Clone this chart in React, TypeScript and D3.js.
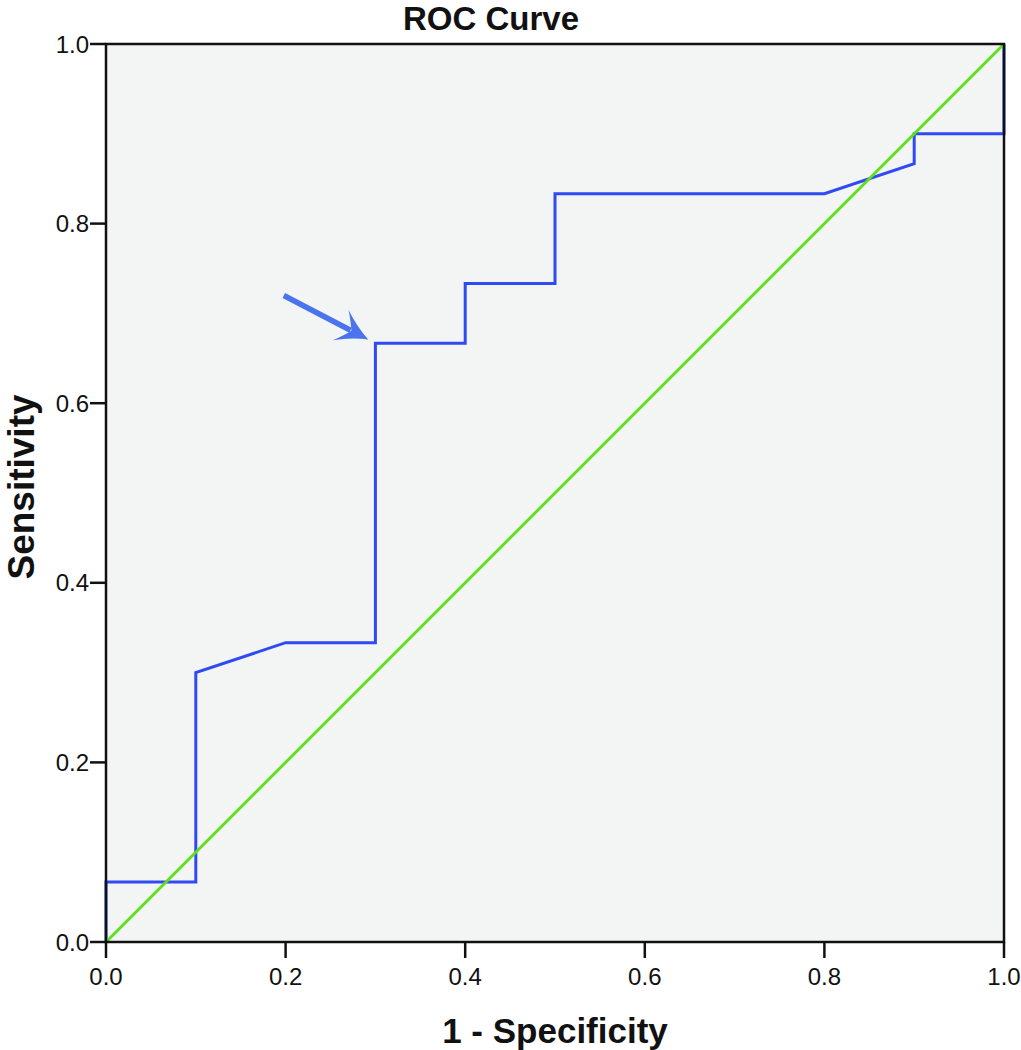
import React, { useEffect } from "react";
import * as d3 from "d3";

const rocFpr = [0, 0, 0.1, 0.1, 0.2, 0.3, 0.3, 0.4, 0.4, 0.5, 0.5, 0.8, 0.9, 0.9, 1.0, 1.0];
const rocTpr = [0, 0.0667, 0.0667, 0.3, 0.3333, 0.3333, 0.6667, 0.6667, 0.7333, 0.7333, 0.8333, 0.8333, 0.8667, 0.9, 0.9, 1.0];
const refX = [0, 1];
const refY = [0, 1];
const tickValues = [0, 0.2, 0.4, 0.6, 0.8, 1.0];
const arrowTail = [0.198, 0.72];
const arrowTip = [0.292, 0.671];

const W = 1021;
const H = 1050;
const left = 106, right = 1004, top = 44, bottom = 942;
const FONT = "'Liberation Sans', Arial, Helvetica, sans-serif";

export default function App() {
  useEffect(() => {
    document.body.style.margin = "0";
  }, []);
  const x = d3.scaleLinear().domain([0, 1]).range([left, right]);
  const y = d3.scaleLinear().domain([0, 1]).range([bottom, top]);
  const line = d3.line<number>().x((_, i) => x(rocFpr[i])).y((_, i) => y(rocTpr[i]));
  const rocPath = line(rocFpr) || "";
  const refPath = d3.line<number>().x((_, i) => x(refX[i])).y((_, i) => y(refY[i]))(refX) || "";

  const tx = x(arrowTip[0]), ty = y(arrowTip[1]);
  const sx = x(arrowTail[0]), sy = y(arrowTail[1]);
  const ang = (Math.atan2(ty - sy, tx - sx) * 180) / Math.PI;
  const len = Math.hypot(tx - sx, ty - sy);
  const head = "M0,0 Q-16,-6 -31,-17 Q-23,-7 -19,0 Q-23,7 -31,17 Q-16,6 0,0 Z";

  return (
    <svg width={W} height={H} style={{ display: "block", background: "#fff" }}>
      <rect x={left} y={top} width={right - left} height={bottom - top} fill="#f3f4f4" />
      <path d={rocPath} fill="none" stroke="#2f4af2" strokeWidth={3} strokeLinejoin="miter" />
      <path d={refPath} fill="none" stroke="#5ee01c" strokeWidth={2.8} />
      <rect x={left} y={top} width={right - left} height={bottom - top} fill="none" stroke="#111" strokeWidth={2.5} />
      <g transform={`translate(${tx},${ty}) rotate(${ang})`}>
        <line x1={-len} y1={0} x2={-20} y2={0} stroke="#4a74ee" strokeWidth={5.5} />
        <path d={head} fill="#4a74ee" />
      </g>
      {tickValues.map((t) => (
        <g key={"x" + t}>
          <line x1={x(t)} x2={x(t)} y1={bottom} y2={bottom + 16} stroke="#111" strokeWidth={2.5} />
          <text x={x(t)} y={985} textAnchor="middle" fontFamily={FONT} fontSize={24} fill="#111">
            {d3.format(".1f")(t)}
          </text>
        </g>
      ))}
      {tickValues.map((t) => (
        <g key={"y" + t}>
          <line x1={left - 16} x2={left} y1={y(t)} y2={y(t)} stroke="#111" strokeWidth={2.5} />
          <text x={89} y={y(t) + 8.5} textAnchor="end" fontFamily={FONT} fontSize={24} fill="#111">
            {d3.format(".1f")(t)}
          </text>
        </g>
      ))}
      <text x={491} y={30} textAnchor="middle" fontFamily={FONT} fontWeight="bold" fontSize={33} fill="#111">
        ROC Curve
      </text>
      <text x={555} y={1043} textAnchor="middle" fontFamily={FONT} fontWeight="bold" fontSize={35} fill="#111">
        1 - Specificity
      </text>
      <text
        transform={`translate(34,487) rotate(-90)`}
        textAnchor="middle"
        fontFamily={FONT}
        fontWeight="bold"
        fontSize={37}
        fill="#111"
      >
        Sensitivity
      </text>
    </svg>
  );
}
